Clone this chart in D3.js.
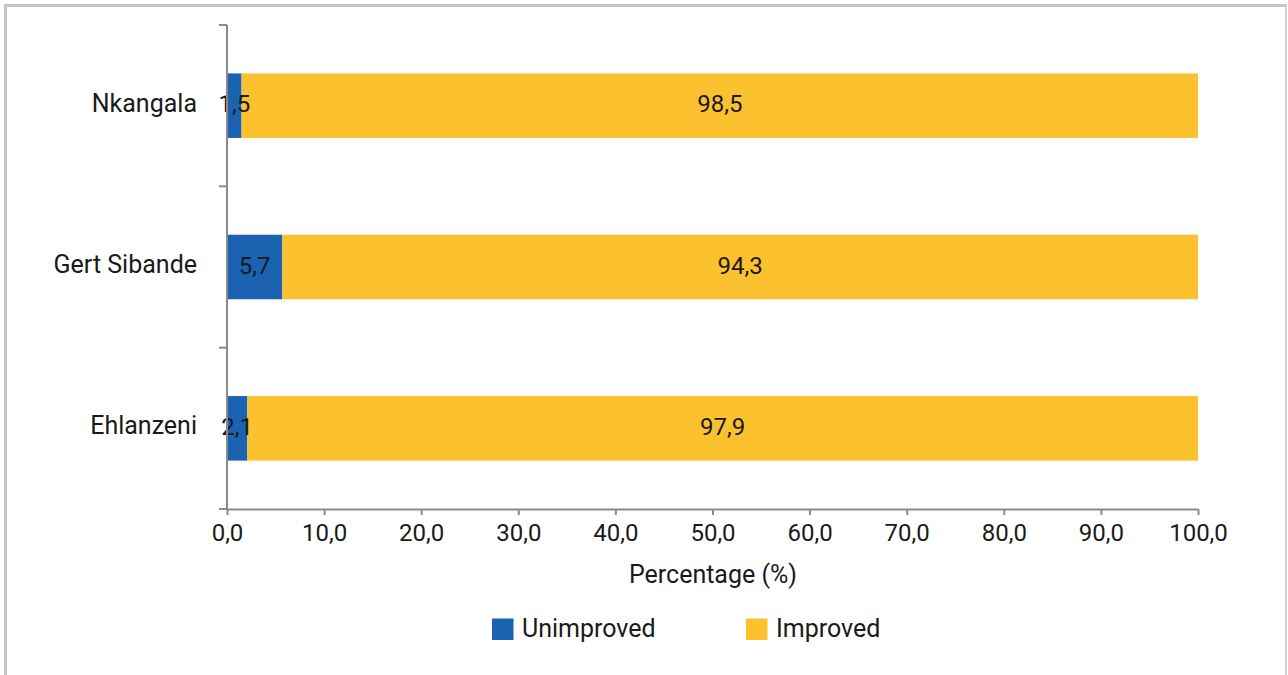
<!DOCTYPE html>
<html>
<head>
<meta charset="utf-8">
<script src="https://cdn.jsdelivr.net/npm/d3@7"></script>
<style>
  body { margin: 0; background: #fff; }
  svg text { font-family: Roboto, "Noto Sans", sans-serif; fill: #1a1a1a; }
</style>
</head>
<body>
<svg id="chart" width="1288" height="675"></svg>
<script>
// data
const districts = ["Nkangala", "Gert Sibande", "Ehlanzeni"];
const unimproved = [1.5, 5.7, 2.1];
const improved = [98.5, 94.3, 97.9];
const xTicks = [0, 10, 20, 30, 40, 50, 60, 70, 80, 90, 100];
const seriesNames = ["Unimproved", "Improved"];
const seriesColors = ["#1b63b1", "#fcc12e"];

const svg = d3.select("#chart");

// frame round the whole figure (no bottom edge in the picture)
const frame = svg.append("g").attr("stroke", "#c6c6ca").attr("fill", "none");
frame.append("line").attr("x1", 5.5).attr("x2", 5.5).attr("y1", 4).attr("y2", 675).attr("stroke-width", 3);
frame.append("line").attr("x1", 4).attr("x2", 1287).attr("y1", 5.5).attr("y2", 5.5).attr("stroke-width", 3);
frame.append("line").attr("x1", 1286).attr("x2", 1286).attr("y1", 4).attr("y2", 675).attr("stroke-width", 1.5);

const x = d3.scaleLinear().domain([0, 100]).range([227, 1198]);
const y = d3.scaleBand().domain(districts).range([25, 509])
  .paddingInner(0.6).paddingOuter(0.3);

const rows = districts.map((d, i) => ({ name: d, vals: [unimproved[i], improved[i]] }));

const fmt = v => v.toFixed(1).replace(".", ",");

// bars first, labels on top
const segs = [];
rows.forEach(r => {
  let start = 0;
  r.vals.forEach((v, k) => {
    segs.push({ name: r.name, start: start, v: v, k: k });
    start += v;
  });
});

svg.append("g").selectAll("rect")
  .data(segs)
  .join("rect")
  .attr("x", d => x(d.start))
  .attr("y", d => y(d.name))
  .attr("width", d => x(d.start + d.v) - x(d.start))
  .attr("height", y.bandwidth())
  .attr("fill", d => seriesColors[d.k]);

svg.append("g").selectAll("text")
  .data(segs)
  .join("text")
  .attr("x", d => x(d.start + d.v / 2))
  .attr("y", d => y(d.name) + y.bandwidth() / 2)
  .attr("dy", "0.28em")
  .attr("text-anchor", "middle")
  .style("font-size", "24px")
  .text(d => fmt(d.v));

// y axis: ticks sit on band boundaries
const yAxisG = svg.append("g");
yAxisG.append("line")
  .attr("x1", x(0)).attr("x2", x(0))
  .attr("y1", y.range()[0]).attr("y2", y.range()[1])
  .attr("stroke", "#8a8a8a").attr("stroke-width", 2);
const bounds = districts.map(d => y(d) - y.step() * y.paddingOuter()).concat([y.range()[1]]);
bounds.forEach(b => {
  yAxisG.append("line")
    .attr("x1", x(0) - 8).attr("x2", x(0))
    .attr("y1", b).attr("y2", b)
    .attr("stroke", "#8a8a8a").attr("stroke-width", 2);
});
districts.forEach(d => {
  yAxisG.append("text")
    .attr("x", 197)
    .attr("y", y(d) + y.bandwidth() / 2)
    .attr("dy", "0.24em")
    .attr("text-anchor", "end")
    .style("font-size", "25px")
    .text(d);
});

// x axis
const xAxis = d3.axisBottom(x)
  .tickValues(xTicks)
  .tickSize(6)
  .tickSizeOuter(0)
  .tickFormat(fmt);
const xg = svg.append("g")
  .attr("transform", `translate(0, ${y.range()[1]})`)
  .call(xAxis);
xg.select(".domain").attr("stroke", "#8a8a8a").attr("stroke-width", 2);
xg.selectAll(".tick line").attr("stroke", "#8a8a8a").attr("stroke-width", 2);
xg.selectAll(".tick text")
  .attr("y", 15)
  .style("font-size", "24px")
  .style("font-family", "Roboto, 'Noto Sans', sans-serif")
  .attr("fill", "#1a1a1a");

svg.append("text")
  .attr("x", 713).attr("y", 583)
  .attr("text-anchor", "middle")
  .style("font-size", "25px")
  .text("Percentage (%)");

// legend
const legendX = [492, 746];
seriesNames.forEach((s, k) => {
  svg.append("rect")
    .attr("x", legendX[k]).attr("y", 618.5)
    .attr("width", 21.5).attr("height", 21.5)
    .attr("fill", seriesColors[k]);
  svg.append("text")
    .attr("x", legendX[k] + 30).attr("y", 637)
    .style("font-size", "25px")
    .text(s);
});
</script>
</body>
</html>
